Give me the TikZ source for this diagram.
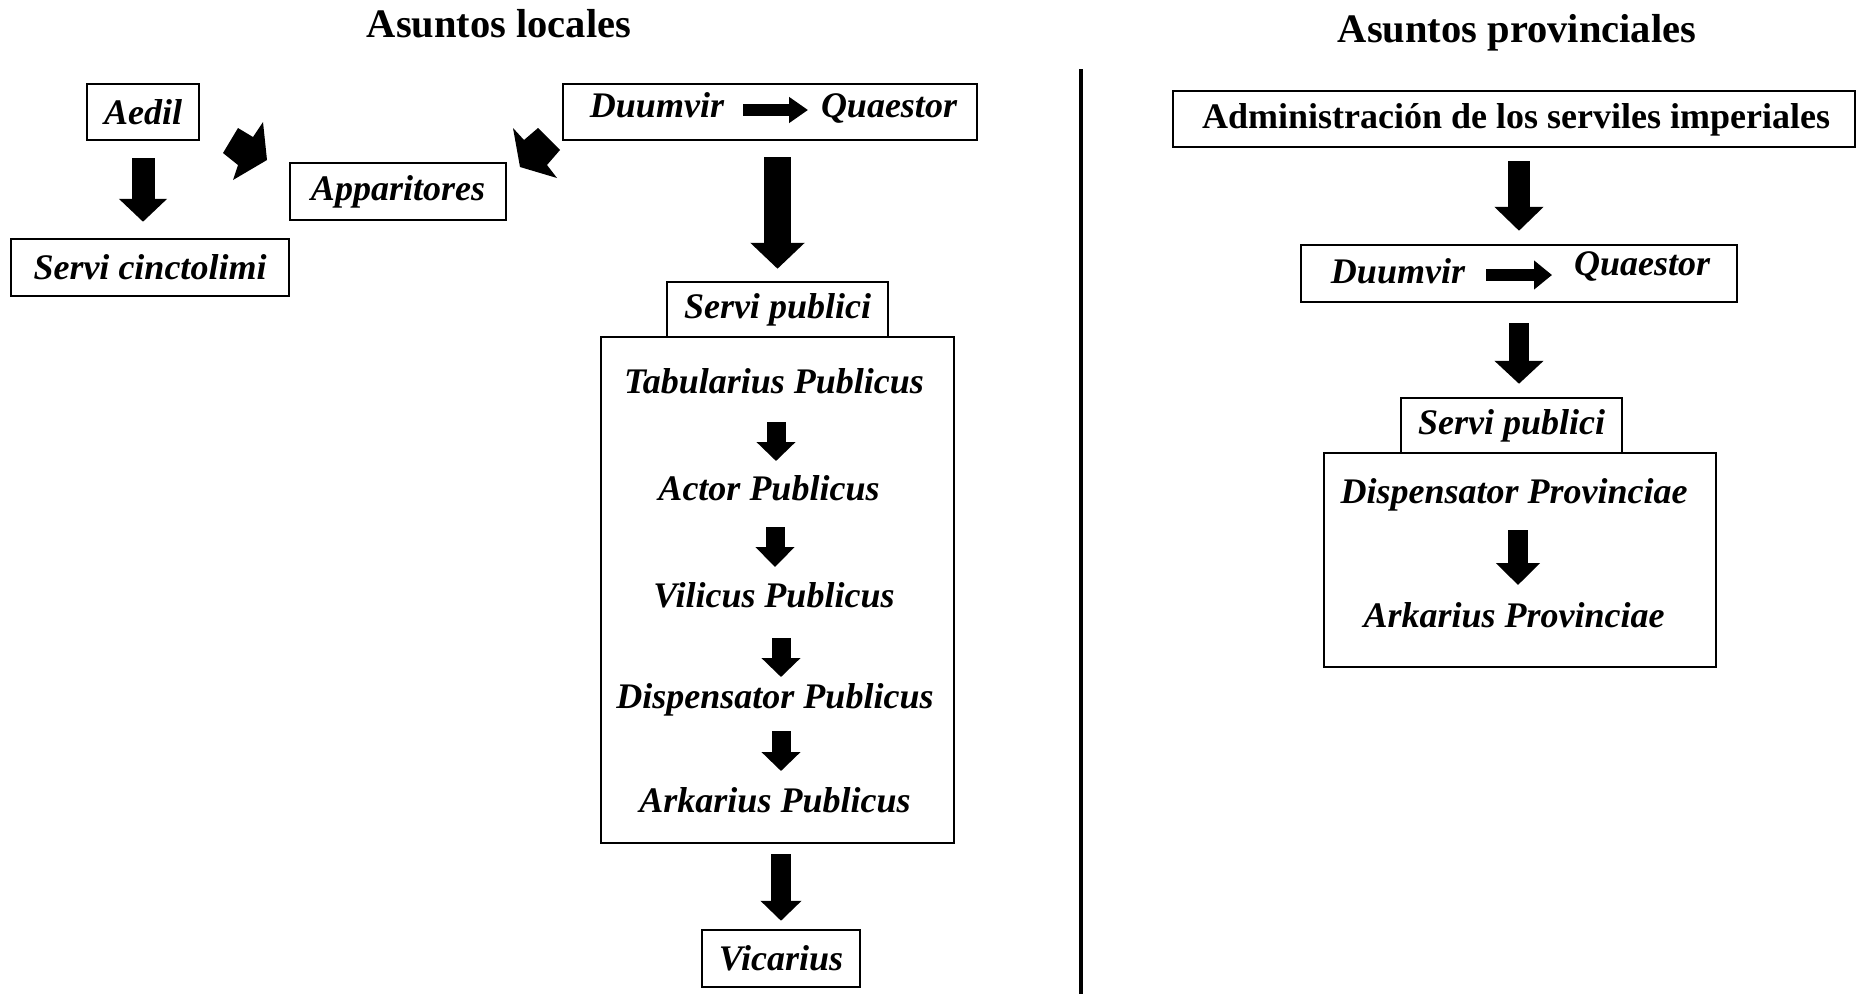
\documentclass[tikz,border=0pt]{standalone}
\usepackage{fontspec}
\setmainfont{Liberation Serif}
\usetikzlibrary{arrows.meta}
\tikzset{
 bx/.style={draw, line width=2.5pt, inner sep=0pt, font=\fontsize{36}{40}\selectfont\bfseries\itshape},
 lbl/.style={inner sep=0pt, anchor=base, font=\fontsize{36}{40}\selectfont\bfseries\itshape},
 ttl/.style={inner sep=0pt, anchor=base, font=\fontsize{40.5}{44}\selectfont\bfseries},
 blk/.style n args={3}{line width=#1pt, -{Triangle[width=#2pt,length=#3pt]}},
 tilt/.style={fill=black},
}
\begin{document}
\begin{tikzpicture}[x=1pt,y=-1pt]
\useasboundingbox[fill=white] (0,0) rectangle (1858,994);

% titles
\node[ttl] (tl) at (499,37) {Asuntos locales};
\node[ttl] (tr) at (1517,42) {Asuntos provinciales};

% divider
\draw[line width=3.5pt] (1081,69) -- (1081,994);

% ---------- left side ----------
\node[bx, minimum width=112pt, minimum height=56pt] (aedil) at (143,112) {Aedil};
\node[bx, minimum width=278pt, minimum height=57pt] (cinct) at (150,267.5) {Servi cinctolimi};
\node[bx, minimum width=216pt, minimum height=57pt] (appar) at (398,191.5) {Apparitores};
\node[bx, minimum width=414pt, minimum height=56pt] (duumL) at (770,112) {};
\node[lbl] (dvL) at (657,117) {Duumvir};
\node[lbl] (qsL) at (889,117) {Quaestor};
\coordinate (hL1) at (743,110);
\coordinate (hL2) at (808,110);
\draw[blk={12}{25}{19}] (hL1) -- (hL2);

\draw[blk={23}{47}{23}] ([yshift=-17pt]aedil.south) -- ([yshift=16pt]aedil.south |- cinct.north);

% tilted block arrows toward Apparitores
\fill[tilt] (223,153) -- (238,128) -- (253,137) -- (263,122) -- (267,160) -- (233,180) -- (238,165) -- cycle;
\fill[tilt] (520,167) -- (513,128) -- (524,140) -- (538,128) -- (560,150) -- (547,165) -- (557,178) -- cycle;

\node[bx, minimum width=353pt, minimum height=506pt] (bigL) at (777.5,590) {};
\node[bx, fill=white, minimum width=221pt, minimum height=55pt] (spL) at (777.5,309.5) {Servi publici};

\draw[blk={27}{53}{26}] ([yshift=-16pt]spL.north |- duumL.south) -- ([yshift=12pt]spL.north);

\node[lbl] (t1) at (774,393) {Tabularius Publicus};
\node[lbl] (t2) at (769,500) {Actor Publicus};
\node[lbl] (t3) at (774,607) {Vilicus Publicus};
\node[lbl] (t4) at (775,708) {Dispensator Publicus};
\node[lbl] (t5) at (775,812) {Arkarius Publicus};

\draw[blk={19}{38}{19}] ([xshift=2pt,yshift=-29pt]t1.base) -- ([xshift=2pt,yshift=-68pt]t1.base);
\draw[blk={19}{38}{20}] ([xshift=6pt,yshift=-27pt]t2.base) -- ([xshift=6pt,yshift=-67pt]t2.base);
\draw[blk={19}{38}{19}] ([xshift=7pt,yshift=-31pt]t3.base) -- ([xshift=7pt,yshift=-70pt]t3.base);
\draw[blk={19}{38}{19}] ([xshift=6pt,yshift=-23pt]t4.base) -- ([xshift=6pt,yshift=-63pt]t4.base);

\node[bx, minimum width=158pt, minimum height=57pt] (vic) at (781,958.5) {Vicarius};
\draw[blk={20}{40}{20}] ([yshift=-10pt]vic.north |- bigL.south) -- ([yshift=8pt]vic.north);

% ---------- right side ----------
\node[bx, minimum width=682pt, minimum height=56pt, font=\fontsize{36}{40}\selectfont\bfseries] (admin) at (1514,119) {};
\node[inner sep=0pt, anchor=base, font=\fontsize{36}{40}\selectfont\bfseries] (admT) at (1516,128) {Administración de los serviles imperiales};

\node[bx, minimum width=436pt, minimum height=57pt] (duumR) at (1519,273.5) {};
\node[lbl] (dvR) at (1398,283) {Duumvir};
\node[lbl] (qsR) at (1642,275) {Quaestor};
\coordinate (hR1) at (1486,275);
\coordinate (hR2) at (1552,275);
\draw[blk={12}{28}{18}] (hR1) -- (hR2);

\draw[blk={22}{48}{24}] ([yshift=-13pt]duumR.north |- admin.south) -- ([yshift=13pt]duumR.north);

\node[bx, minimum width=392pt, minimum height=214pt] (bigR) at (1520,560) {};
\node[bx, fill=white, minimum width=221pt, minimum height=55pt] (spR) at (1511.5,425.5) {Servi publici};

\draw[blk={20}{48}{23}] ([yshift=-20pt]duumR.south) -- ([yshift=13pt]duumR.south |- spR.north);

\node[lbl] (p1) at (1514,503) {Dispensator Provinciae};
\node[lbl] (p2) at (1514,627) {Arkarius Provinciae};
\draw[blk={20}{43}{22}] ([xshift=4pt,yshift=-27pt]p1.base) -- ([xshift=4pt,yshift=-82pt]p1.base);
\end{tikzpicture}
\end{document}
